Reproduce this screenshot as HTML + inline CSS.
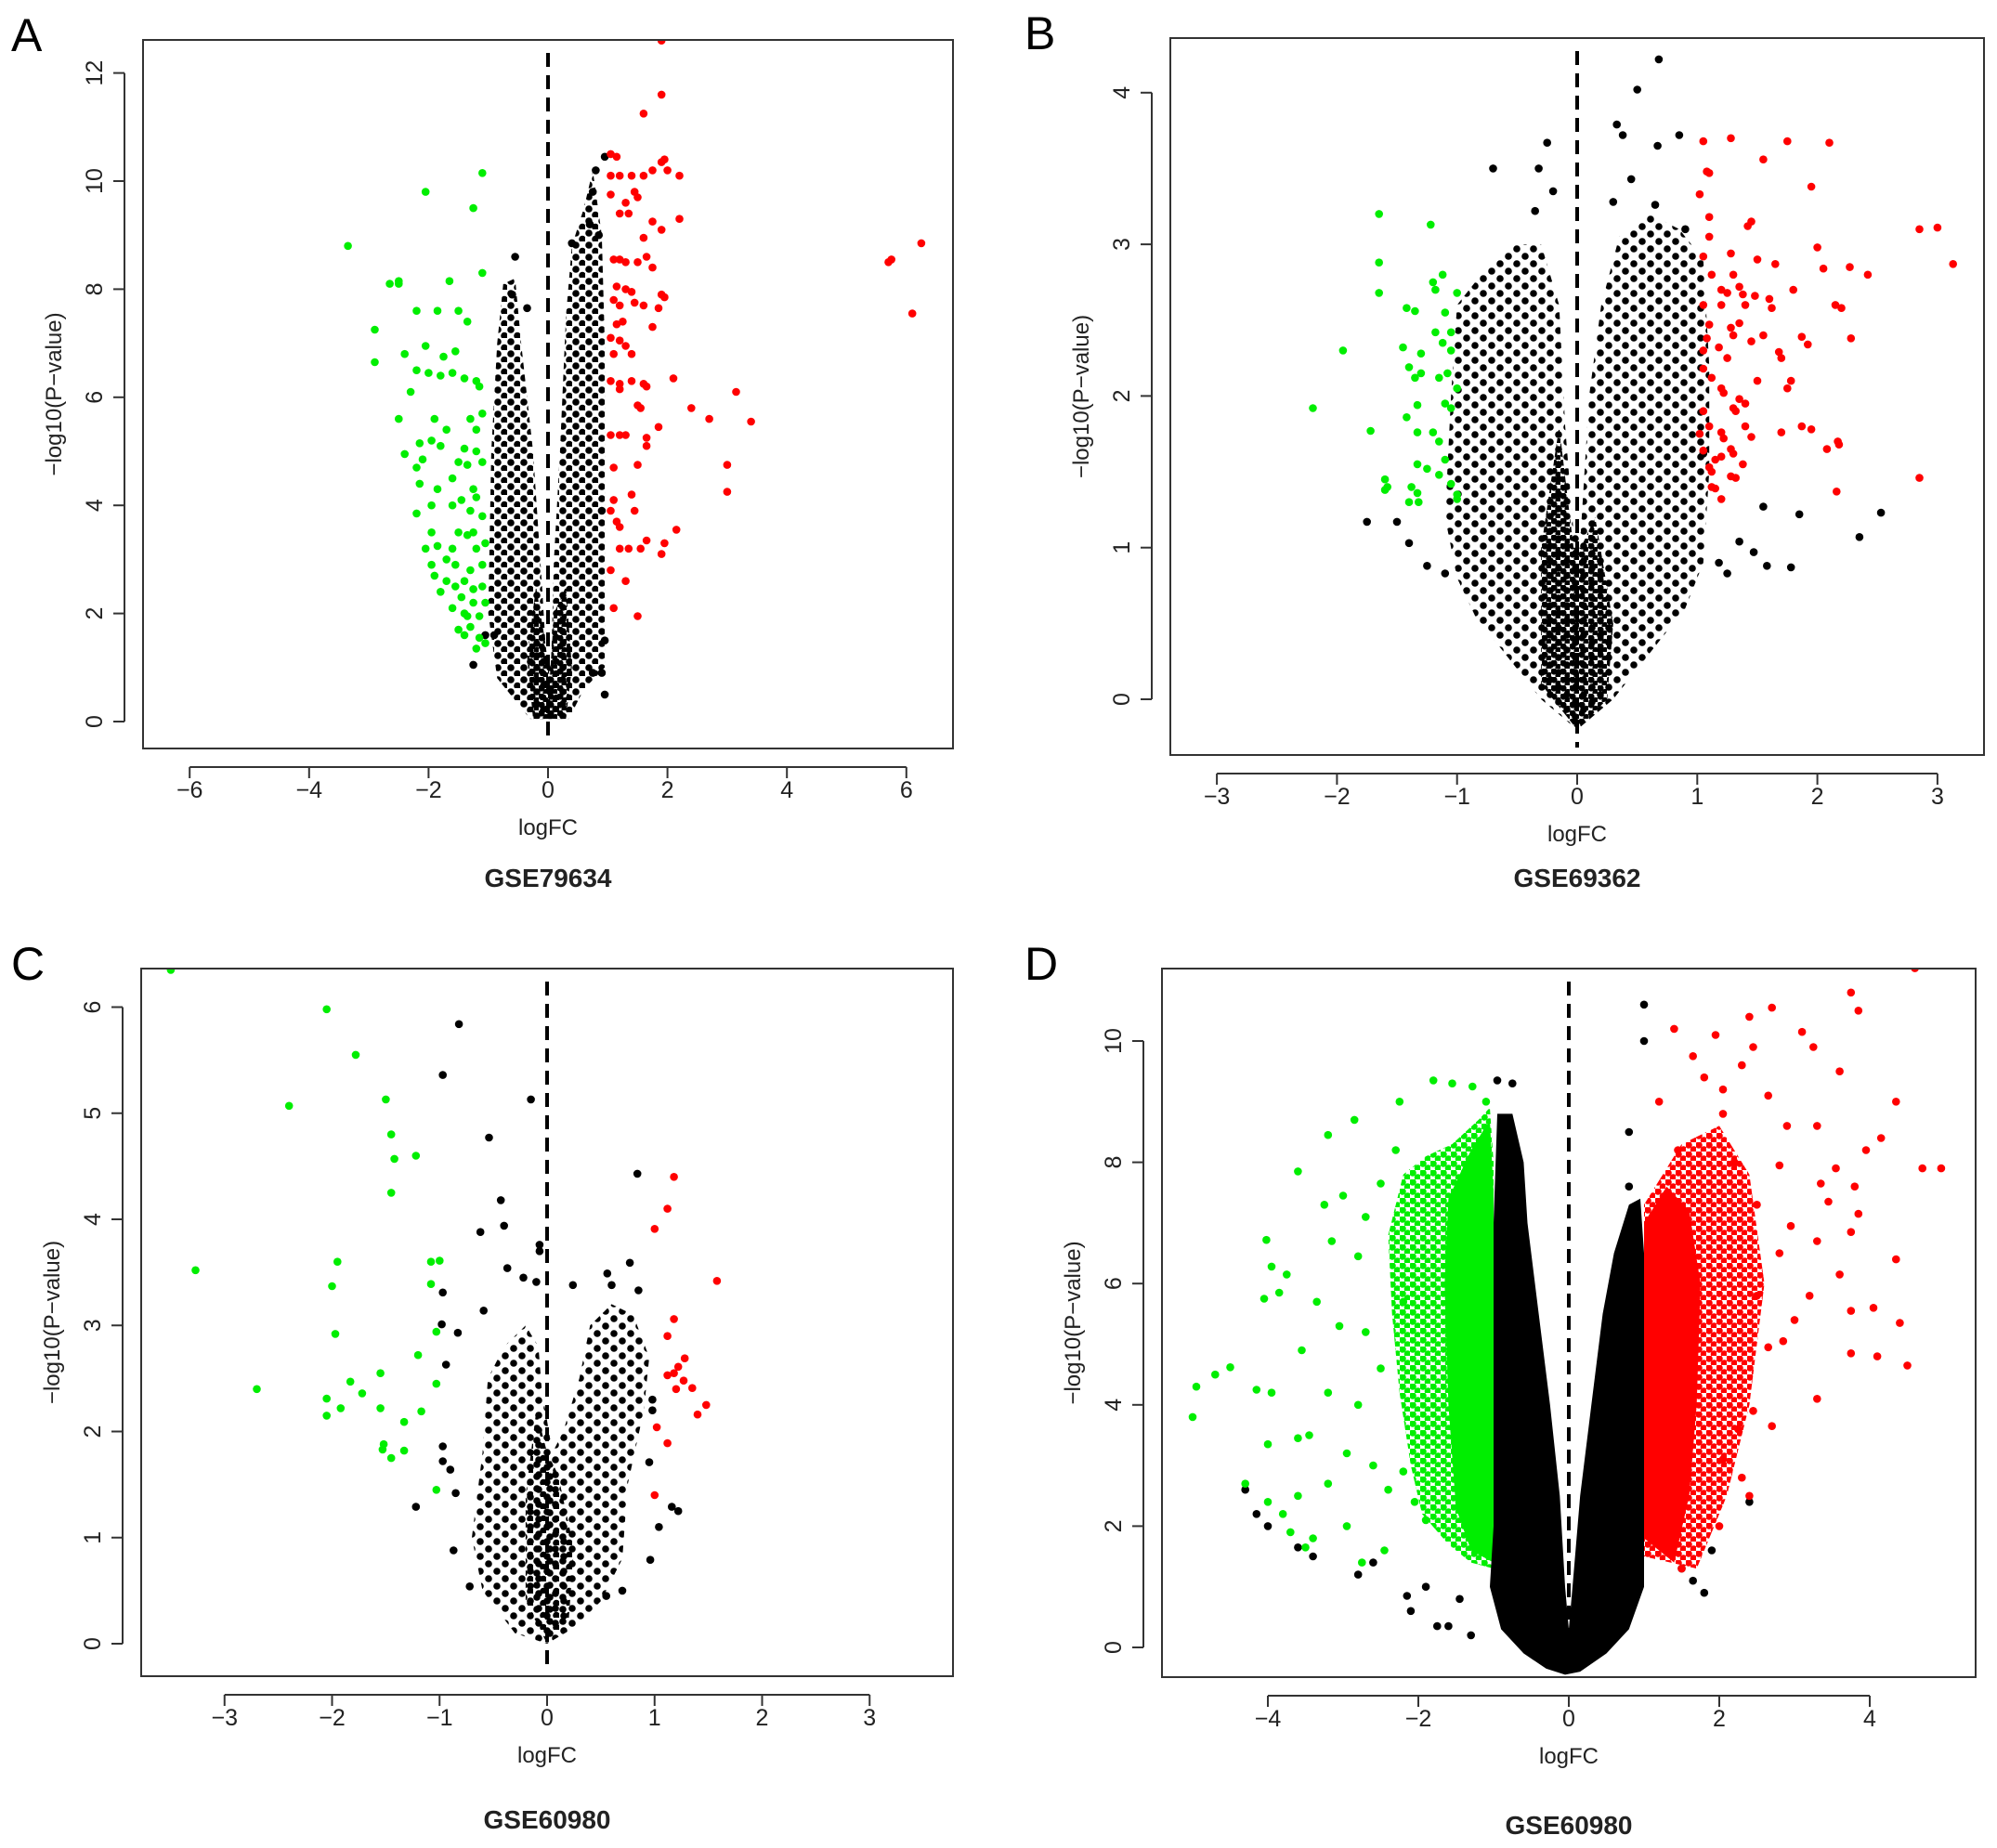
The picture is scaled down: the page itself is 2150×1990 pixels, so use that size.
<!DOCTYPE html>
<html><head><meta charset="utf-8"><style>
html,body{margin:0;padding:0;background:#fff;}
svg{display:block;font-family:"Liberation Sans",Arial,sans-serif;}
</style></head><body>
<svg id="fig" width="2150" height="1990" viewBox="0 0 2150 1990" xmlns="http://www.w3.org/2000/svg">
<defs>
<pattern id="dotsBlack" width="10" height="9" patternUnits="userSpaceOnUse"><circle cx="3" cy="3" r="3.6" fill="#000"/><circle cx="8" cy="7.5" r="3.6" fill="#000"/></pattern>
<pattern id="dotsBlackSparse" width="14" height="13" patternUnits="userSpaceOnUse"><circle cx="4" cy="4" r="3.8" fill="#000"/><circle cx="11" cy="10.5" r="3.8" fill="#000"/></pattern>
<pattern id="dotsBlackVerySparse" width="18" height="16" patternUnits="userSpaceOnUse"><circle cx="4" cy="4" r="3.8" fill="#000"/><circle cx="13" cy="12" r="3.8" fill="#000"/></pattern>
<pattern id="dotsGreen" width="11" height="10" patternUnits="userSpaceOnUse"><circle cx="3" cy="3" r="3.8" fill="#00ee00"/><circle cx="8.5" cy="8" r="3.8" fill="#00ee00"/></pattern>
<pattern id="dotsRed" width="11" height="10" patternUnits="userSpaceOnUse"><circle cx="3" cy="3" r="3.8" fill="#ff0000"/><circle cx="8.5" cy="8" r="3.8" fill="#ff0000"/></pattern>
</defs>
</svg>
<script>
// ===== Panel A (GSE79634) data =====
const aXTicks=[-6,-4,-2,0,2,4,6];
const aYTicks=[0,2,4,6,8,10,12];
const aBlackEnvelope=[[-0.3,0.05],[0.35,0.05],[0.6,0.6],[0.95,1.0],[0.95,4],[0.95,7],[0.9,9],[0.75,10.2],[0.6,9.5],[0.4,8.8],[0.3,7.5],[0.2,5],[0.1,3],[0.05,1],[-0.03,1.2],[-0.1,2.5],[-0.25,5],[-0.45,7],[-0.55,8.2],[-0.75,8.1],[-0.85,7],[-0.95,5],[-1.0,2],[-0.85,0.8]];
const aBlackCore=[[-0.25,0.05],[0.3,0.05],[0.4,1.0],[0.3,2.5],[0.1,2.0],[0.03,0.8],[-0.05,1.5],[-0.2,2.5],[-0.35,1.2]];
const aBlack=[[-0.55,8.6],[-0.6,7.9],[-0.35,7.65],[0.95,10.45],[0.8,10.2],[0.75,9.8],[0.7,9.2],[0.4,8.85],[0.85,9.0],[-1.25,1.05],[0.95,0.5],[0.9,0.9],[0.95,1.5],[0.75,0.9],[-1.05,1.6],[0.9,3.9],[-0.9,1.6]];
const aGreen=[[-3.35,8.8],[-2.9,7.25],[-2.9,6.65],[-2.65,8.1],[-2.5,8.15],[-2.5,8.1],[-2.4,6.8],[-2.3,6.1],[-2.5,5.6],[-2.4,4.95],[-2.05,9.8],[-1.25,9.5],[-1.1,10.15],[-1.65,8.15],[-1.1,8.3],[-2.2,7.6],[-1.85,7.6],[-1.5,7.6],[-1.35,7.4],[-2.05,6.95],[-1.75,6.75],[-1.55,6.85],[-2.2,6.5],[-2.0,6.45],[-1.8,6.4],[-1.6,6.45],[-1.4,6.35],[-1.2,6.3],[-1.15,6.2],[-1.9,5.6],[-1.7,5.4],[-1.3,5.6],[-1.1,5.7],[-1.2,5.4],[-2.15,5.15],[-1.95,5.2],[-1.8,5.1],[-1.4,5.05],[-1.2,5.0],[-2.1,4.85],[-2.2,4.7],[-1.5,4.8],[-1.35,4.75],[-1.1,4.8],[-1.6,4.5],[-1.25,4.3],[-1.85,4.3],[-2.15,4.4],[-1.95,4.0],[-1.45,4.1],[-1.2,4.15],[-2.2,3.85],[-1.1,3.8],[-1.95,3.5],[-1.5,3.5],[-1.35,3.45],[-1.25,3.5],[-2.05,3.2],[-1.85,3.25],[-1.6,3.2],[-1.2,3.2],[-1.05,3.3],[-1.95,2.9],[-1.55,2.9],[-1.3,2.8],[-1.1,2.9],[-1.9,2.7],[-1.7,2.6],[-1.55,2.5],[-1.4,2.6],[-1.25,2.45],[-1.1,2.5],[-1.8,2.4],[-1.45,2.3],[-1.25,2.2],[-1.05,2.2],[-1.6,2.1],[-1.35,1.95],[-1.15,1.95],[-1.5,1.7],[-1.3,1.75],[-1.4,1.6],[-1.15,1.55],[-1.2,1.35],[-1.05,1.45],[-1.3,3.9],[-1.6,4.0],[-1.7,3.0],[-1.4,2.0]];
const aRed=[[1.9,12.6],[1.9,11.6],[1.6,11.25],[1.05,10.5],[1.15,10.45],[1.05,10.1],[1.2,10.1],[1.4,10.1],[1.6,10.1],[1.75,10.2],[1.9,10.35],[1.95,10.4],[2.0,10.2],[2.2,10.1],[1.05,9.75],[1.3,9.6],[1.5,9.7],[1.45,9.8],[1.2,9.4],[1.35,9.4],[1.75,9.25],[1.9,9.1],[2.2,9.3],[1.6,8.95],[1.1,8.55],[1.2,8.55],[1.3,8.5],[1.5,8.5],[1.65,8.6],[1.75,8.4],[1.15,8.05],[1.3,8.0],[1.4,7.95],[1.9,7.9],[1.95,7.85],[1.1,7.8],[1.2,7.7],[1.45,7.75],[1.6,7.7],[1.85,7.65],[1.15,7.35],[1.25,7.4],[1.75,7.3],[1.05,7.1],[1.2,7.05],[1.3,6.95],[1.1,6.8],[1.4,6.8],[1.05,6.3],[1.2,6.25],[1.4,6.3],[1.6,6.25],[1.65,6.2],[2.1,6.35],[1.2,6.15],[1.5,5.85],[1.55,5.8],[2.4,5.8],[2.7,5.6],[3.15,6.1],[3.4,5.55],[1.85,5.45],[1.05,5.3],[1.2,5.3],[1.3,5.3],[1.65,5.25],[1.65,5.1],[1.1,4.7],[1.5,4.75],[3.0,4.75],[3.0,4.25],[1.1,4.1],[1.4,4.2],[1.05,3.9],[1.45,3.9],[1.2,3.6],[1.15,3.7],[2.15,3.55],[1.95,3.3],[1.2,3.2],[1.35,3.2],[1.55,3.2],[1.65,3.35],[1.9,3.1],[1.05,2.8],[1.3,2.6],[1.1,2.1],[1.5,1.95],[5.7,8.5],[5.75,8.55],[6.25,8.85],[6.1,7.55]];

// ===== Panel B (GSE69362) data =====
const bXTicks=[-3,-2,-1,0,1,2,3];
const bYTicks=[0,1,2,3,4];
const bBlackEnvelope=[[0,-0.2],[0.3,0.0],[0.6,0.3],[0.9,0.6],[1.05,0.9],[1.1,1.5],[1.1,2.2],[1.05,2.9],[0.85,3.1],[0.6,3.2],[0.35,3.05],[0.2,2.6],[0.1,2.0],[0.03,1.1],[-0.03,1.1],[-0.1,1.8],[-0.15,2.6],[-0.3,3.0],[-0.55,3.0],[-0.8,2.8],[-1.0,2.6],[-1.05,2.0],[-1.1,1.2],[-1.0,0.8],[-0.85,0.55],[-0.6,0.3],[-0.3,0.0]];
const bBlackCore=[[0,-0.2],[0.25,0.0],[0.3,0.5],[0.15,1.2],[0.03,1.0],[-0.03,1.0],[-0.15,1.8],[-0.3,1.0],[-0.3,0.1]];
const bBlack=[[0.68,4.22],[0.5,4.02],[0.33,3.79],[0.38,3.72],[-0.25,3.67],[0.67,3.65],[0.85,3.72],[-0.7,3.5],[-0.32,3.5],[0.45,3.43],[-0.35,3.22],[0.65,3.26],[0.3,3.28],[0.9,3.1],[-0.2,3.35],[-1.75,1.17],[-1.5,1.17],[-1.4,1.03],[-1.25,0.88],[-1.1,0.83],[2.35,1.07],[2.53,1.23],[1.85,1.22],[1.78,0.87],[1.58,0.88],[1.55,1.27],[1.47,0.97],[1.35,1.04],[1.25,0.83],[1.18,0.9],[1.05,1.62]];
const bGreen=[[-2.2,1.92],[-1.95,2.3],[-1.72,1.77],[-1.65,3.2],[-1.65,2.88],[-1.65,2.68],[-1.6,1.45],[-1.6,1.38],[-1.58,1.4],[-1.45,2.32],[-1.42,2.58],[-1.42,1.86],[-1.4,2.19],[-1.38,1.4],[-1.35,2.56],[-1.35,2.12],[-1.33,1.94],[-1.33,1.76],[-1.33,1.55],[-1.33,1.36],[-1.3,2.28],[-1.3,2.15],[-1.32,1.3],[-1.22,3.13],[-1.2,2.75],[-1.18,2.7],[-1.18,2.42],[-1.15,2.12],[-1.12,2.8],[-1.12,2.35],[-1.1,1.95],[-1.1,2.55],[-1.1,1.58],[-1.15,1.48],[-1.2,1.76],[-1.15,1.7],[-1.08,2.15],[-1.05,2.42],[-1.05,2.3],[-1.05,1.92],[-1.05,1.42],[-1.0,2.68],[-1.0,2.05],[-1.0,1.35],[-1.0,1.32],[-1.25,1.52],[-1.4,1.3]];
const bRed=[[1.05,3.68],[1.28,3.7],[1.75,3.68],[2.1,3.67],[1.55,3.56],[1.08,3.48],[1.1,3.47],[1.95,3.38],[1.02,3.33],[1.1,3.18],[1.45,3.15],[1.42,3.12],[2.85,3.1],[3.0,3.11],[1.1,3.05],[2.0,2.98],[1.05,2.92],[1.28,2.94],[1.5,2.9],[1.65,2.87],[3.13,2.87],[2.05,2.84],[2.27,2.85],[2.42,2.8],[1.12,2.8],[1.3,2.8],[1.35,2.72],[1.38,2.67],[1.2,2.7],[1.25,2.68],[1.6,2.64],[1.48,2.66],[1.8,2.7],[1.05,2.6],[1.2,2.6],[1.4,2.6],[1.62,2.58],[2.15,2.6],[2.2,2.58],[1.1,2.47],[1.28,2.45],[1.35,2.48],[1.08,2.38],[1.3,2.4],[1.45,2.36],[1.55,2.4],[1.87,2.39],[2.28,2.38],[1.92,2.34],[1.05,2.3],[1.18,2.32],[1.25,2.25],[1.68,2.29],[1.7,2.25],[1.05,2.18],[1.12,2.12],[1.2,2.05],[1.22,2.02],[1.5,2.1],[1.78,2.1],[1.75,2.05],[1.35,1.98],[1.4,1.95],[1.05,1.9],[1.3,1.92],[1.32,1.9],[1.1,1.8],[1.2,1.76],[1.22,1.72],[1.4,1.8],[1.7,1.76],[1.87,1.8],[1.95,1.78],[1.02,1.75],[1.45,1.73],[2.17,1.7],[2.18,1.68],[2.08,1.65],[1.05,1.64],[1.28,1.65],[1.3,1.62],[1.15,1.58],[1.2,1.6],[1.1,1.53],[1.12,1.5],[1.38,1.55],[1.28,1.47],[1.32,1.46],[1.12,1.4],[1.15,1.39],[2.16,1.37],[2.85,1.46],[1.2,1.32]];

// ===== Panel C (GSE60980) data =====
const cXTicks=[-3,-2,-1,0,1,2,3];
const cYTicks=[0,1,2,3,4,5,6];
const cBlackEnvelope=[[0,0],[0.25,0.15],[0.5,0.4],[0.7,0.8],[0.75,1.5],[0.9,2.2],[0.95,2.7],[0.8,3.1],[0.6,3.2],[0.4,3.0],[0.3,2.5],[0.15,2.0],[0.05,1.8],[-0.05,2.4],[-0.08,2.8],[-0.2,3.0],[-0.4,2.8],[-0.55,2.5],[-0.6,1.8],[-0.7,1.0],[-0.6,0.5],[-0.3,0.1]];
const cBlackCore=[[0,0],[0.2,0.2],[0.25,0.9],[0.1,1.6],[0,1.8],[-0.1,2.2],[-0.2,1.4],[-0.2,0.4]];
const cBlack=[[-0.82,5.84],[-0.97,5.36],[-0.15,5.13],[-0.54,4.77],[0.84,4.43],[-0.43,4.18],[-0.4,3.94],[-0.62,3.88],[-0.07,3.76],[-0.07,3.7],[0.77,3.59],[-0.37,3.54],[0.56,3.49],[-0.22,3.45],[-0.1,3.41],[0.24,3.38],[0.6,3.38],[0.85,3.33],[-0.97,3.31],[-0.98,3.01],[-0.83,2.93],[-0.59,3.14],[-0.94,2.63],[-0.97,1.86],[-0.97,1.72],[-0.9,1.64],[-0.85,1.42],[-1.22,1.29],[-0.87,0.88],[-0.72,0.54],[1.04,1.1],[0.96,0.79],[1.16,1.29],[1.22,1.25],[0.98,2.2],[0.98,2.3],[0.95,1.71],[0.7,0.5],[0.55,0.45]];
const cGreen=[[-3.5,6.35],[-2.05,5.98],[-1.78,5.55],[-2.4,5.07],[-1.5,5.13],[-1.45,4.8],[-1.42,4.57],[-1.22,4.6],[-1.45,4.25],[-3.27,3.52],[-1.95,3.6],[-2.0,3.37],[-1.08,3.6],[-1.0,3.61],[-1.08,3.39],[-1.97,2.92],[-1.03,2.94],[-1.2,2.72],[-2.7,2.4],[-1.55,2.55],[-1.83,2.47],[-1.72,2.36],[-2.05,2.31],[-1.03,2.45],[-1.92,2.22],[-1.55,2.22],[-1.17,2.19],[-2.05,2.15],[-1.33,2.09],[-1.52,1.88],[-1.53,1.83],[-1.33,1.82],[-1.45,1.75],[-1.03,1.45]];
const cRed=[[1.18,4.4],[1.12,4.1],[1.0,3.91],[1.58,3.42],[1.18,3.06],[1.12,2.9],[1.28,2.69],[1.22,2.61],[1.12,2.53],[1.18,2.55],[1.27,2.48],[1.35,2.41],[1.2,2.4],[1.48,2.25],[1.4,2.16],[1.02,2.04],[1.12,1.89],[1.0,1.4]];

// ===== Panel D (GSE60980) data =====
const dXTicks=[-4,-2,0,2,4];
const dYTicks=[0,2,4,6,8,10];
const dBlackEnvelope=[[-0.05,-0.45],[0.15,-0.4],[0.5,-0.1],[0.8,0.3],[1.0,1.0],[1.0,4],[1.0,6.5],[0.95,7.4],[0.8,7.3],[0.6,6.5],[0.45,5.5],[0.3,4.0],[0.15,2.5],[0.05,1.0],[0.0,0.3],[-0.05,1.0],[-0.12,2.5],[-0.25,4],[-0.4,5.5],[-0.55,7],[-0.6,8],[-0.75,8.8],[-0.95,8.8],[-1.0,7],[-1.0,4],[-1.0,2],[-1.05,1.0],[-0.9,0.3],[-0.6,-0.1],[-0.3,-0.35]];
const dGreenCore=[[-1,1.4],[-1.3,1.6],[-1.5,2.3],[-1.6,4],[-1.65,6],[-1.6,7.4],[-1.3,8.2],[-1.05,8.7],[-1,7.5]];
const dGreenCloud=[[-1,1.3],[-1.3,1.4],[-1.6,1.7],[-1.95,2.2],[-2.1,3.0],[-2.25,4.2],[-2.35,5.5],[-2.4,6.8],[-2.2,7.8],[-1.9,8.1],[-1.55,8.3],[-1.2,8.7],[-1.05,8.9],[-1,8]];
const dRedCore=[[1,1.8],[1.4,1.4],[1.6,2.5],[1.7,4],[1.75,6],[1.6,7.2],[1.3,7.6],[1,7]];
const dRedCloud=[[1,1.5],[1.7,1.3],[2.1,2.5],[2.4,4],[2.6,6],[2.4,7.8],[2.0,8.6],[1.5,8.3],[1,7.3]];
const dBlack=[[1.0,10.6],[1.0,10.0],[-0.75,9.3],[-0.95,9.35],[-1.3,0.2],[-1.6,0.35],[-2.15,0.85],[-2.1,0.6],[-1.75,0.35],[-1.45,0.8],[-2.8,1.2],[-2.6,1.4],[-3.4,1.5],[-3.6,1.65],[-4,2.0],[-4.3,2.6],[-4.15,2.2],[-1.9,1.0],[1.8,0.9],[1.65,1.1],[1.5,1.3],[1.9,1.6],[2.4,2.4],[0.8,8.5],[0.8,7.6]];
const dGreen=[[-5.0,3.8],[-4.95,4.3],[-4.7,4.5],[-4.5,4.62],[-4.3,2.7],[-4.15,4.25],[-4.05,5.75],[-4.02,6.72],[-3.95,6.28],[-3.85,5.85],[-4,3.35],[-3.95,4.2],[-3.75,6.15],[-3.6,7.85],[-3.55,4.9],[-3.6,3.45],[-3.45,3.5],[-3.35,5.7],[-3.25,7.3],[-3.2,8.45],[-3.2,4.2],[-3.15,6.7],[-3.05,5.3],[-3.0,7.45],[-2.85,8.7],[-2.8,6.45],[-2.7,7.1],[-2.5,7.65],[-2.3,8.2],[-2.25,9.0],[-1.8,9.35],[-1.55,9.3],[-1.28,9.25],[-1.1,9.0],[-2.7,5.2],[-2.95,3.2],[-3.2,2.7],[-3.6,2.5],[-3.8,2.2],[-4.0,2.4],[-3.7,1.9],[-3.5,1.65],[-3.4,1.8],[-2.95,2.0],[-2.75,1.4],[-2.45,1.6],[-2.4,2.6],[-2.2,2.9],[-2.05,2.4],[-1.9,2.1],[-2.6,3.0],[-2.8,4.0],[-2.5,4.6],[-2.2,5.7]];
const dRed=[[4.6,11.2],[3.75,10.8],[3.85,10.5],[2.7,10.55],[2.4,10.4],[1.4,10.2],[1.95,10.1],[3.1,10.15],[3.25,9.9],[2.45,9.9],[1.65,9.75],[2.3,9.6],[3.6,9.5],[2.05,9.2],[2.65,9.1],[4.35,9.0],[1.2,9.0],[2.9,8.6],[3.3,8.6],[4.15,8.4],[3.95,8.2],[1.45,8.2],[2.8,7.95],[3.55,7.9],[4.7,7.9],[4.95,7.9],[3.8,7.6],[3.35,7.65],[3.45,7.35],[3.85,7.15],[3.75,6.85],[3.3,6.7],[2.95,6.95],[4.35,6.4],[3.6,6.15],[3.2,5.8],[4.05,5.6],[3.75,5.55],[4.4,5.35],[3.0,5.4],[2.85,5.05],[2.65,4.95],[3.75,4.85],[4.1,4.8],[4.5,4.65],[3.3,4.1],[2.45,3.9],[2.7,3.65],[2.25,3.6],[2.05,3.1],[2.0,2.0],[2.4,2.5],[2.3,2.8],[1.5,1.3],[2.5,5.8],[2.8,6.5],[2.5,7.3],[2.2,8.0],[2.05,8.8],[1.8,9.4]];

const NS='http://www.w3.org/2000/svg';
const svg=document.getElementById('fig');
function mk(tag,attrs,parent){const e=document.createElementNS(NS,tag);for(const k in attrs)e.setAttribute(k,attrs[k]);(parent||svg).appendChild(e);return e;}

function panel(cfg){
  const g=mk('g',{});
  
  
  const sx=v=>cfg.x0+v*cfg.xs, sy=v=>cfg.y0-v*cfg.ys;
  const ptsStr=arr=>arr.map(p=>sx(p[0]).toFixed(1)+','+sy(p[1]).toFixed(1)).join(' ');
  const L=mk('text',{x:cfg.letterX,y:cfg.top+12,'font-size':50,'font-family':'"Liberation Sans Narrow","Liberation Sans",sans-serif','fill':'#000'},g);
  L.textContent=cfg.letter;
  
  
  const cid='clip'+cfg.letter;
  const cp=mk('clipPath',{id:cid},g);
  mk('rect',{x:cfg.left,y:cfg.top,width:cfg.right-cfg.left,height:cfg.bottom-cfg.top},cp);
  const plot=mk('g',{'clip-path':'url(#'+cid+')'},g);
  
  
  (cfg.polys||[]).forEach(pp=>{
    const p=mk('polygon',{points:ptsStr(pp.data),fill:pp.fill,'stroke-linejoin':'round'},plot);
    
    
  });
  const dotSeries=(arr,color,nm)=>{
    const sg=mk('g',{fill:color},plot);
    
    
    arr.forEach(p=>{
      const c=mk('circle',{cx:sx(p[0]).toFixed(1),cy:sy(p[1]).toFixed(1),r:4.3},sg);
      
      
    });
  };
  dotSeries(cfg.black,'#000','not-significant-genes');
  dotSeries(cfg.green,'#00ee00','downregulated-genes');
  dotSeries(cfg.red,'#ff0000','upregulated-genes');
  const dl=mk('line',{x1:sx(0),x2:sx(0),y1:cfg.top+14,y2:cfg.bottom-8,stroke:'#000','stroke-width':4,'stroke-dasharray':'15,9'},g);
  
  
  const fr=mk('rect',{x:cfg.left,y:cfg.top,width:cfg.right-cfg.left,height:cfg.bottom-cfg.top,fill:'none',stroke:'#333','stroke-width':2},g);
  
  
  const xa=mk('g',{},g);
  
  
  const xt=cfg.xticks;
  mk('line',{x1:sx(xt[0]),x2:sx(xt[xt.length-1]),y1:cfg.bottom+20,y2:cfg.bottom+20,stroke:'#333','stroke-width':2},xa);
  xt.forEach(v=>{
    mk('line',{x1:sx(v),x2:sx(v),y1:cfg.bottom+20,y2:cfg.bottom+32,stroke:'#333','stroke-width':2},xa);
    const t=mk('text',{x:sx(v),y:cfg.bottom+53,'font-size':25,'text-anchor':'middle',fill:'#222'},xa);
    t.textContent=v<0?'\u2212'+Math.abs(v):String(v);
    
    
  });
  const ya=mk('g',{},g);
  
  
  const yt=cfg.yticks;
  mk('line',{x1:cfg.left-20,x2:cfg.left-20,y1:sy(yt[0]),y2:sy(yt[yt.length-1]),stroke:'#333','stroke-width':2},ya);
  yt.forEach(v=>{
    mk('line',{x1:cfg.left-32,x2:cfg.left-20,y1:sy(v),y2:sy(v),stroke:'#333','stroke-width':2},ya);
    const tx=cfg.left-44, ty=sy(v);
    const t=mk('text',{x:tx,y:ty,'font-size':25,'text-anchor':'middle',fill:'#222',transform:'rotate(-90 '+tx+' '+ty+')'},ya);
    t.textContent=String(v);
    
    
  });
  const mid=(cfg.top+cfg.bottom)/2;
  const yl=mk('text',{x:cfg.left-88,y:mid,'font-size':24,'text-anchor':'middle',fill:'#222',transform:'rotate(-90 '+(cfg.left-88)+' '+mid+')'},g);
  yl.textContent='\u2212log10(P\u2212value)';
  
  
  const cx=(cfg.left+cfg.right)/2;
  const xl=mk('text',{x:cx,y:cfg.bottom+93,'font-size':24,'text-anchor':'middle',fill:'#222'},g);
  xl.textContent='logFC';
  
  
  const tt=mk('text',{x:cx,y:cfg.bottom+cfg.titleOff,'font-size':28,'font-weight':'bold','text-anchor':'middle',fill:'#222'},g);
  tt.textContent=cfg.title;
  
  
}

panel({name:'panel-a',letter:'A',letterX:12,title:'GSE79634',titleOff:149,left:154,right:1026,top:43,bottom:806,x0:590,xs:64.3,y0:777,ys:58.2,xticks:aXTicks,yticks:aYTicks,
  polys:[{data:aBlackEnvelope,fill:'url(#dotsBlackSparse)',name:'nonsig-density-cloud'},{data:aBlackCore,fill:'url(#dotsBlack)',name:'nonsig-density-core'}],black:aBlack,green:aGreen,red:aRed});
panel({name:'panel-b',letter:'B',letterX:1103,title:'GSE69362',titleOff:142,left:1260,right:2136,top:41,bottom:813,x0:1698,xs:129.3,y0:753,ys:163.3,xticks:bXTicks,yticks:bYTicks,
  polys:[{data:bBlackEnvelope,fill:'url(#dotsBlackVerySparse)',name:'nonsig-density-cloud'},{data:bBlackCore,fill:'url(#dotsBlack)',name:'nonsig-density-core'}],black:bBlack,green:bGreen,red:bRed});
panel({name:'panel-c',letter:'C',letterX:12,title:'GSE60980',titleOff:164,left:152,right:1026,top:1043,bottom:1805,x0:589,xs:115.75,y0:1770,ys:114.25,xticks:cXTicks,yticks:cYTicks,
  polys:[{data:cBlackEnvelope,fill:'url(#dotsBlackVerySparse)',name:'nonsig-density-cloud'},{data:cBlackCore,fill:'url(#dotsBlackSparse)',name:'nonsig-density-core'}],black:cBlack,green:cGreen,red:cRed});
panel({name:'panel-d',letter:'D',letterX:1103,title:'GSE60980',titleOff:169,left:1251,right:2127,top:1043,bottom:1806,x0:1689,xs:81,y0:1774,ys:65.3,xticks:dXTicks,yticks:dYTicks,
  polys:[{data:dGreenCloud,fill:'url(#dotsGreen)',name:'down-density-cloud'},{data:dGreenCore,fill:'#00ee00',name:'down-density-core'},{data:dRedCloud,fill:'url(#dotsRed)',name:'up-density-cloud'},{data:dRedCore,fill:'#ff0000',name:'up-density-core'},{data:dBlackEnvelope,fill:'#000',name:'nonsig-density-core'}],black:dBlack,green:dGreen,red:dRed});
</script>
</body></html>
